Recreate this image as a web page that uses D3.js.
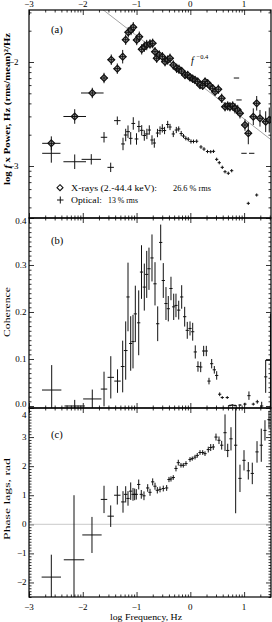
<!DOCTYPE html>
<html><head><meta charset="utf-8">
<script src="https://cdn.jsdelivr.net/npm/d3@7"></script>
<style>body{margin:0;background:#fff}svg{display:block}text{font-family:"Liberation Serif","Times New Roman",serif;fill:#000}</style>
</head><body><svg id="c" width="272" height="622"></svg>
<script>
// ---------------- data ----------------
const xMajor = [-3,-2,-1,0,1];
const yMajorA = [-3,-2];
const yMajorB = [0,0.1,0.2,0.3,0.4];
const yMajorC = [-2,-1,0,1,2,3,4];
// X-ray power (log f, log fP, error, bin half width)
const xrF = [-2.585,-2.150,-1.823,-1.605,-1.470,-1.358,-1.258,-1.202,-1.154,-1.103,-1.061,-0.997,-0.949,-0.904,-0.856,-0.811,-0.750,-0.700,-0.657,-0.625,-0.577,-0.521,-0.471,-0.421,-0.378,-0.317,-0.254,-0.211,-0.161,-0.099,-0.049,-0.006,0.044,0.087,0.137,0.180,0.230,0.273,0.323,0.366,0.416,0.459,0.520,0.583,0.645,0.695,0.737,0.788,0.830,0.881,0.923,1.016,1.078,1.171,1.234,1.295,1.401,1.468];
const xrP = [-2.782,-2.524,-2.298,-2.154,-1.978,-2.064,-1.949,-1.786,-1.714,-1.692,-1.666,-1.788,-1.757,-1.878,-1.853,-1.837,-1.827,-1.820,-1.901,-1.964,-1.933,-1.949,-1.997,-1.981,-1.964,-2.029,-2.061,-2.070,-2.087,-2.125,-2.125,-2.147,-2.161,-2.173,-2.189,-2.221,-2.228,-2.189,-2.205,-2.231,-2.253,-2.286,-2.262,-2.349,-2.430,-2.423,-2.430,-2.423,-2.445,-2.462,-2.493,-2.606,-2.686,-2.526,-2.397,-2.541,-2.574,-2.558];
const xrE = [0.067,0.07,0.05,0.05,0.05,0.05,0.065,0.05,0.05,0.05,0.05,0.05,0.05,0.05,0.05,0.05,0.045,0.045,0.045,0.045,0.045,0.045,0.045,0.045,0.045,0.045,0.045,0.045,0.04,0.04,0.04,0.04,0.04,0.04,0.04,0.04,0.04,0.04,0.04,0.04,0.04,0.04,0.045,0.045,0.045,0.045,0.045,0.045,0.05,0.05,0.05,0.055,0.105,0.08,0.07,0.08,0.1,0.12];
const xrW = [0.17,0.21,0.21,0.07,0.07,0.07,0.07,0.065,0.065,0.065,0.065,0.065,0.065,0.065,0.065,0.065,0.065,0.065,0.065,0.065,0.065,0.065,0.065,0.065,0.065,0.065,0.065,0.065,0.065,0.065,0.065,0.065,0.065,0.065,0.065,0.065,0.065,0.065,0.065,0.065,0.065,0.065,0.065,0.065,0.065,0.065,0.065,0.065,0.065,0.065,0.065,0.065,0.065,0.065,0.065,0.065,0.065,0.065];
// Optical power
const optF = [-2.585,-2.150,-1.842,-1.605,-1.481,-1.358,-1.252,-1.202,-1.159,-1.109,-1.061,-1.001,-0.956,-0.904,-0.856,-0.808,-0.763,-0.713,-0.670,-0.611,-0.564,-0.521,-0.479,-0.421,-0.378,-0.317,-0.261,-0.216,-0.170,-0.127,-0.084,-0.038,0.012,0.059,0.118,0.198,0.254,0.319,0.379,0.431,0.490,0.538,0.594,0.645,0.706,0.769,0.858,0.905,0.998,1.078,1.141,1.234];
const optP = [-2.878,-2.959,-2.936,-2.724,-3.013,-2.564,-2.788,-2.702,-2.670,-2.734,-2.591,-2.740,-2.620,-2.657,-2.707,-2.692,-2.654,-2.750,-2.779,-2.683,-2.659,-2.638,-2.659,-2.601,-2.625,-2.692,-2.654,-2.644,-2.688,-2.712,-2.734,-2.743,-2.764,-2.764,-2.762,-2.817,-2.837,-2.861,-2.863,-2.859,-2.936,-2.968,-3.013,-3.055,-3.070,-3.045,-2.154,-2.365,-2.878,-3.359,-2.878,-3.279];
const optE = [0.09,0.07,0.05,0.05,0.045,0.04,0.06,0.06,0.06,0.06,0.06,0.055,0.055,0.05,0.05,0.05,0.045,0.045,0.045,0.04,0.04,0.04,0.035,0.035,0.03,0.03,0.03,0.025,0.025,0.02,0.02,0.02,0.02,0.018,0.018,0.018,0.018,0.016,0.016,0.016,0.016,0.016,0.016,0.016,0.016,0.016,0,0,0,0.015,0,0.015];
const optW = [0.17,0.21,0.18,0.06,0.06,0.06,0.035,0.035,0.035,0.035,0.035,0.035,0.035,0.035,0.035,0.035,0.03,0.03,0.03,0.03,0.03,0.03,0.03,0.03,0.03,0.03,0.03,0.03,0.03,0.03,0.03,0.03,0.03,0.03,0.03,0.03,0.03,0.03,0.03,0.03,0.03,0.03,0.03,0.03,0.03,0.03,0.05,0.05,0.05,0.03,0.05,0.03];
// Coherence
const cohF = [-2.578,-2.150,-1.823,-1.605,-1.479,-1.354,-1.258,-1.202,-1.159,-1.109,-1.066,-1.023,-0.960,-0.908,-0.856,-0.811,-0.769,-0.713,-0.657,-0.607,-0.551,-0.503,-0.453,-0.410,-0.360,-0.309,-0.267,-0.216,-0.161,-0.105,-0.057,-0.006,0.044,0.092,0.142,0.193,0.248,0.297,0.347,0.397,0.446,0.490,0.546,0.594,0.687,0.737,0.780,0.830,0.923,1.016,1.090,1.171,1.245,1.327,1.401,1.49];
const cohV = [0.034,0,0.015,0.036,0.061,0.053,0.084,0.118,0.232,0.133,0.137,0.196,0.177,0.285,0.253,0.28,0.292,0.315,0.26,0.175,0.348,0.267,0.218,0.207,0.25,0.211,0.214,0.204,0.232,0.19,0.161,0.165,0.158,0.115,0.084,0.083,0.117,0.117,0.053,0.09,0.077,0.065,0.025,0.018,0.018,0.001,0.002,0.001,0.002,0.004,0.022,0.004,0.009,0,0.062,0.097];
const cohE = [0.053,0.013,0.02,0.037,0.045,0.025,0.055,0.062,0.073,0.058,0.057,0.06,0.069,0.057,0.05,0.05,0.045,0.05,0.046,0.037,0.038,0.037,0.035,0.027,0.025,0.028,0.025,0.02,0.025,0.021,0.018,0.015,0.019,0.014,0.011,0.011,0.011,0.011,0.007,0.01,0.008,0.009,0.004,0.003,0.003,0.002,0.002,0.002,0.002,0.003,0.009,0.003,0.004,0.009,0.034,0.1];
const cohW = [0.18,0.19,0.17,0.06,0.06,0.06,0.035,0.035,0.03,0.03,0.03,0.03,0.03,0.03,0.03,0.03,0.03,0.03,0.03,0.03,0.03,0.03,0.03,0.03,0.03,0.03,0.03,0.03,0.03,0.03,0.03,0.03,0.03,0.03,0.03,0.03,0.03,0.03,0.03,0.03,0.03,0.03,0.03,0.03,0.03,0.03,0.03,0.03,0.03,0.03,0.03,0.03,0.03,0.03,0.03,0.1];
// Phase lags
const lagF = [-2.585,-2.163,-1.829,-1.605,-1.481,-1.358,-1.252,-1.202,-1.159,-1.109,-1.066,-1.035,-1.005,-0.960,-0.912,-0.862,-0.793,-0.750,-0.700,-0.657,-0.614,-0.564,-0.503,-0.440,-0.397,-0.360,-0.317,-0.267,-0.224,-0.174,-0.131,-0.081,-0.006,0.036,0.087,0.129,0.180,0.230,0.273,0.334,0.379,0.427,0.477,0.533,0.583,0.645,0.695,0.756,0.843,0.923,0.998,1.078,1.152,1.240,1.319,1.388,1.463];
const lagV = [-1.815,-1.22,-0.366,0.856,0.28,1.0,0.77,1.03,0.89,1.14,1.03,1.03,1.03,1.37,1.03,0.98,1.25,1.1,1.46,1.31,1.17,1.2,1.23,1.25,1.54,1.56,1.61,1.92,2.12,2.03,2.03,2.09,2.23,2.26,2.31,2.37,2.47,2.47,2.43,2.57,2.64,2.66,3.0,2.89,2.72,3.15,2.54,2.94,2.72,1.58,2.2,1.84,1.75,2.49,2.72,3.23,3.6];
const lagE = [0.77,2.22,0.62,0.47,0.37,0.32,0.37,0.28,0.25,0.3,0.22,0.2,0.18,0.17,0.15,0.15,0.13,0.12,0.12,0.12,0.11,0.1,0.1,0.1,0.09,0.09,0.08,0.1,0.1,0.08,0.08,0.08,0.08,0.07,0.08,0.08,0.08,0.08,0.08,0.1,0.12,0.1,0.12,0.13,0.15,0.63,0.23,0.4,2.34,0.47,0.35,0.3,0.37,0.37,0.57,0.35,0.3];
const lagW = [0.18,0.19,0.18,0.06,0.06,0.06,0.035,0.035,0.03,0.03,0.03,0.03,0.03,0.03,0.03,0.03,0.03,0.03,0.03,0.03,0.03,0.03,0.03,0.03,0.03,0.03,0.03,0.03,0.03,0.03,0.03,0.03,0.03,0.03,0.03,0.03,0.03,0.03,0.03,0.03,0.03,0.03,0.03,0.03,0.03,0.03,0.03,0.03,0.03,0.03,0.03,0.03,0.03,0.03,0.03,0.03,0.03];
// power-law guide: log fP = a + slope * log f
const lawA = -2.147, lawSlope = -0.4;

// ---------------- drawing ----------------
const svg = d3.select('#c');
const X0 = 29, X1 = 271;
const x = d3.scaleLinear().domain([-3, 1.5]).range([X0, X1]);
const pan = [
  {id:'a', y0:10,  y1:218, dom:[-3.5,-1.5]},
  {id:'b', y0:218, y1:408, dom:[-0.00426,0.4]},
  {id:'c', y0:408, y1:597, dom:[-2.5,4]}
];
pan.forEach(p => p.y = d3.scaleLinear().domain(p.dom).range([p.y1, p.y0]));
const [pa, pb, pc] = pan;

const defs = svg.append('defs');
pan.forEach(p => defs.append('clipPath').attr('id','clip'+p.id)
  .append('rect').attr('x',X0).attr('y',p.y0).attr('width',X1-X0).attr('height',p.y1-p.y0));

const rows = (F,V,E,Wd) => d3.range(F.length).map(i => ({f:F[i], v:V[i], e:E[i], w:Wd[i]}));

// minor log ticks on x
const xMinor = [];
for (let n=-4; n<=1; n++) for (let k=2;k<=9;k++){ const t=n+Math.log10(k); if(t>-3&&t<1.5) xMinor.push(t); }

function tickAxes(p, yMaj, yMin){
  const g = svg.append('g').attr('stroke','#000').attr('stroke-width',0.8);
  const addAxis = (axis, tr) => { const a = g.append('g').attr('transform',tr).call(axis);
    a.select('.domain').remove(); a.selectAll('text').remove(); a.selectAll('line').attr('stroke','#000'); };
  addAxis(d3.axisBottom(x).tickValues(xMajor).tickSize(5), `translate(0,${p.y0})`);
  addAxis(d3.axisBottom(x).tickValues(xMinor).tickSize(2.5), `translate(0,${p.y0})`);
  addAxis(d3.axisTop(x).tickValues(xMajor).tickSize(5), `translate(0,${p.y1})`);
  addAxis(d3.axisTop(x).tickValues(xMinor).tickSize(2.5), `translate(0,${p.y1})`);
  addAxis(d3.axisRight(p.y).tickValues(yMaj).tickSize(5), `translate(${X0},0)`);
  addAxis(d3.axisRight(p.y).tickValues(yMin).tickSize(2.5), `translate(${X0},0)`);
  addAxis(d3.axisLeft(p.y).tickValues(yMaj).tickSize(5), `translate(${X1},0)`);
  addAxis(d3.axisLeft(p.y).tickValues(yMin).tickSize(2.5), `translate(${X1},0)`);
}
const yMinA = []; for (let n=-4;n<=-2;n++) for (let k=2;k<=9;k++){const t=n+Math.log10(k); if(t>-3.5&&t<-1.5) yMinA.push(t);}
const yMinB = d3.range(0,41).map(i=>i/100).filter(v=>Math.round(v*100)%10!==0);
const yMinC = d3.range(-25,41).map(i=>i/10).filter(v=>Math.abs(v-Math.round(v))>1e-6);
tickAxes(pa, yMajorA, yMinA);
tickAxes(pb, yMajorB, yMinB);
tickAxes(pc, yMajorC, yMinC);

function crosses(p, data, color){
  const g = svg.append('g').attr('clip-path',`url(#clip${p.id})`).attr('stroke',color||'#111').attr('stroke-width',1);
  g.selectAll('line.h').data(data).join('line').attr('class','h')
    .attr('x1',d=>x(d.f-d.w)).attr('x2',d=>x(d.f+d.w)).attr('y1',d=>p.y(d.v)).attr('y2',d=>p.y(d.v));
  g.selectAll('line.v').data(data.filter(d=>d.e>0)).join('line').attr('class','v')
    .attr('x1',d=>x(d.f)).attr('x2',d=>x(d.f)).attr('y1',d=>p.y(d.v-d.e)).attr('y2',d=>p.y(d.v+d.e));
  return g;
}

// panel a: guide line
svg.append('g').attr('clip-path','url(#clipa)').append('line')
  .attr('x1',x(-3)).attr('y1',pa.y(lawA+lawSlope*(-3)))
  .attr('x2',x(1.5)).attr('y2',pa.y(lawA+lawSlope*1.5))
  .attr('stroke','#8c8c8c').attr('stroke-width',0.8);

// X-ray diamonds
const xr = rows(xrF,xrP,xrE,xrW);
const dia = (cx,cy,r)=>`M${cx},${cy-r}L${cx+r},${cy}L${cx},${cy+r}L${cx-r},${cy}Z`;
svg.append('g').attr('clip-path','url(#clipa)').selectAll('path').data(xr).join('path')
  .attr('d',d=>dia(x(d.f),pa.y(d.v),3.4)).attr('fill','#a8a8a8').attr('stroke','#111').attr('stroke-width',1.2);
crosses(pa, xr);
crosses(pa, rows(optF,optP,optE,optW));
crosses(pb, rows(cohF,cohV,cohE,cohW));
svg.append('line').attr('x1',X0).attr('x2',X1).attr('y1',pc.y(0)).attr('y2',pc.y(0))
  .attr('stroke','#bbb').attr('stroke-width',0.8);
crosses(pc, rows(lagF,lagV,lagE,lagW));

// frames
pan.forEach(p => svg.append('rect').attr('x',X0).attr('y',p.y0).attr('width',X1-X0).attr('height',p.y1-p.y0)
  .attr('fill','none').attr('stroke','#000').attr('stroke-width',1.2));

// tick labels
const fmtN = v => (v<0?'\u2212':'')+Math.abs(v);
const tl = svg.append('g').attr('font-size',9);
xMajor.forEach(v=>{
  tl.append('text').attr('x',x(v)).attr('y',6.5).attr('text-anchor','middle').text(fmtN(v));
  tl.append('text').attr('x',x(v)).attr('y',609.5).attr('text-anchor','middle').text(fmtN(v));
});
yMajorA.forEach(v=> tl.append('text').attr('x',18.5).attr('y',pa.y(v)+3).attr('text-anchor','end').text(fmtN(v)));
yMajorB.forEach(v=> tl.append('text').attr('x',26.5).attr('y',pb.y(v)+3+(v===0.4?3:0)+(v===0?-1.5:0)).attr('text-anchor','end').text(v.toFixed(1)));
yMajorC.forEach(v=> tl.append('text').attr('x',26.5).attr('y',pc.y(v)+3+(v===4?6.5:0)).attr('text-anchor','end').text(fmtN(v)));

// axis titles
const ya = svg.append('text').attr('transform','translate(9.5,109) rotate(-90)').attr('text-anchor','middle')
  .attr('font-size',9).attr('font-weight','bold').attr('textLength',152).attr('lengthAdjust','spacingAndGlyphs');
ya.append('tspan').text('log ');
ya.append('tspan').attr('font-style','italic').text('f');
ya.append('tspan').text(' x Power, Hz (rms/mean)\u00b2/Hz');
svg.append('text').attr('transform','translate(9.5,312) rotate(-90)').attr('text-anchor','middle')
  .attr('font-size',9).attr('textLength',50).attr('lengthAdjust','spacingAndGlyphs').text('Coherence');
svg.append('text').attr('transform','translate(9.5,499) rotate(-90)').attr('text-anchor','middle')
  .attr('font-size',9).attr('textLength',82).attr('lengthAdjust','spacingAndGlyphs').text('Phase lags, rad');
svg.append('text').attr('x',146).attr('y',619.5).attr('text-anchor','middle')
  .attr('font-size',9).attr('textLength',72).attr('lengthAdjust','spacingAndGlyphs').text('log Frequency, Hz');

// panel letters
[['(a)',pa.y0+23],['(b)',pb.y0+25.5],['(c)',pc.y0+29.5]].forEach(([t,yy])=>
  svg.append('text').attr('x',51).attr('y',yy).attr('font-size',10.5).text(t));

// power-law label
svg.append('text').attr('x',191).attr('y',64).attr('font-size',10).attr('font-style','italic').text('f');
svg.append('text').attr('x',196.5).attr('y',59).attr('font-size',6.5).text('\u22120.4');

// legend
svg.append('path').attr('d',dia(60,187.7,3)).attr('fill','#fff').attr('stroke','#111').attr('stroke-width',1.1);
const lg = svg.append('g').attr('stroke','#111').attr('stroke-width',1);
lg.append('line').attr('x1',57).attr('x2',63.5).attr('y1',200).attr('y2',200);
lg.append('line').attr('x1',60.3).attr('x2',60.3).attr('y1',196.5).attr('y2',203.5);
const lt = svg.append('g').attr('font-size',8);
lt.append('text').attr('x',71).attr('y',190.5).attr('textLength',86).attr('lengthAdjust','spacingAndGlyphs').text('X-rays (2.-44.4 keV):');
lt.append('text').attr('x',173).attr('y',190.5).attr('textLength',38).attr('lengthAdjust','spacingAndGlyphs').text('26.6 % rms');
lt.append('text').attr('x',71).attr('y',203).attr('textLength',31).attr('lengthAdjust','spacingAndGlyphs').text('Optical:');
lt.append('text').attr('x',108).attr('y',203).attr('textLength',30).attr('lengthAdjust','spacingAndGlyphs').text('13 % rms');
</script></body></html>
